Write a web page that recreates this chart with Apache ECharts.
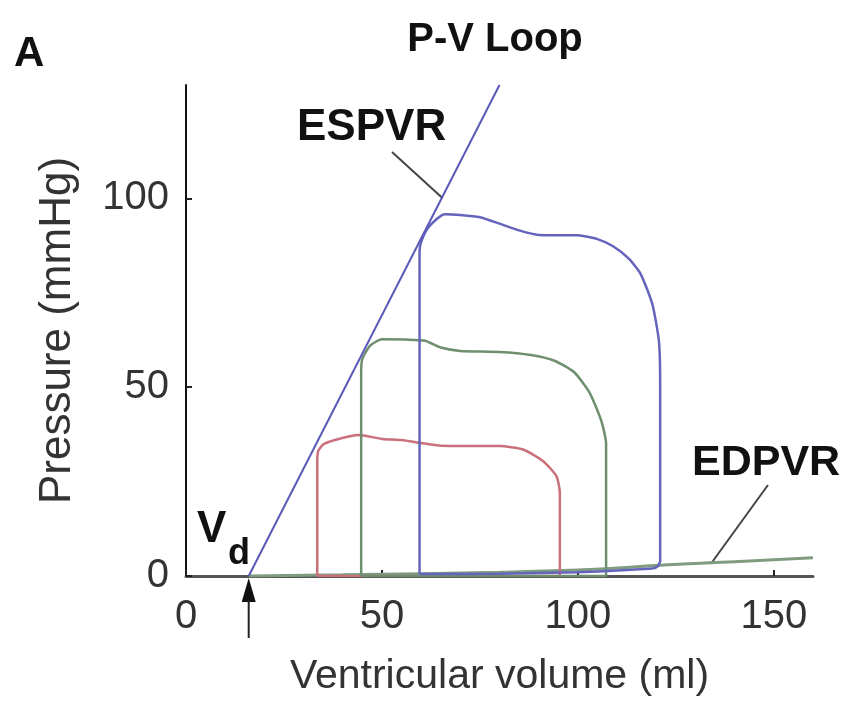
<!DOCTYPE html>
<html>
<head>
<meta charset="utf-8">
<script src="https://cdn.jsdelivr.net/npm/echarts@6/dist/echarts.min.js"></script>
<style>
  html, body { margin: 0; padding: 0; background: #fff; }
  #main { width: 848px; height: 702px; }
</style>
</head>
<body>
<div id="main"></div>
<script>
// volume (ml), pressure (mmHg) pairs
var vd = 16;
var espvr = [[16, 0], [80, 130]];
var edpvr = [[16, 0], [40, 0.3], [60, 0.6], [80, 1], [100, 1.6], [110, 2.1], [120, 2.8], [130, 3.3], [140, 3.8], [150, 4.3], [160, 4.8]];

var loopRed = [[33.5, 0], [33.5, 30], [33.7, 33], [35, 34.8], [38, 36], [44, 37.3], [50, 36.3], [55, 36], [60, 35.2], [65, 34.5],
  [80, 34.4], [86, 33.5], [91, 30.5], [94.5, 26.5], [95.4, 22], [95.4, 0], [33.5, 0]];
var loopGreen = [[44.7, 0], [44.7, 54], [45, 57.5], [47, 61], [50, 62.7], [56, 62.6], [61, 62.3], [65, 60.5], [70, 59.6], [80, 59.3],
  [88, 58.5], [94, 57], [99, 54], [103, 48.5], [106, 41], [107.2, 35], [107.2, 0], [44.7, 0]];
var loopBlue = [[59.6, 0.5], [59.6, 86], [60.2, 89], [62, 92.5], [66, 95.8], [70, 95.6], [75, 95], [80, 93.3], [85, 91.5], [90, 90.3],
  [100, 90.2], [105, 89.2], [109, 87.3], [113, 84], [116, 80], [119, 72], [120.7, 62], [121, 50], [121, 4], [120.3, 2.5],
  [119, 2], [100, 1], [80, 0.6], [59.6, 0.5]];

var xTicks = [0, 50, 100, 150];
var yTicks = [0, 50, 100];

var font = "'Liberation Sans', Arial, sans-serif";
var myChart = echarts.init(document.getElementById('main'));

function loop(data, color) {
  return {
    type: 'line',
    data: data,
    smooth: 0.2,
    symbol: 'none',
    lineStyle: { color: color, width: 2.5 },
    z: 2
  };
}

var option = {
  animation: false,
  backgroundColor: '#fff',
  grid: { left: 186, right: 35, top: 85, bottom: 126, outerBoundsMode: 'none' },
  xAxis: {
    type: 'value',
    min: 0,
    max: 160,
    interval: 50,
    name: 'Ventricular volume (ml)',
    nameLocation: 'middle',
    nameGap: 80,
    nameTextStyle: { fontSize: 41, color: '#333', fontFamily: font },
    axisLine: { lineStyle: { color: '#555', width: 3 } },
    axisTick: { inside: true, length: 6, lineStyle: { color: '#222', width: 2 } },
    axisLabel: {
      fontSize: 40, color: '#333', fontFamily: font, margin: 21, showMaxLabel: false,
      formatter: function (v) { return xTicks.indexOf(v) >= 0 ? String(v) : ''; }
    },
    splitLine: { show: false }
  },
  yAxis: {
    type: 'value',
    min: 0,
    max: 130,
    interval: 50,
    name: 'Pressure (mmHg)',
    nameLocation: 'middle',
    nameGap: 106,
    nameTextStyle: { fontSize: 44, color: '#333', fontFamily: font },
    axisLine: { lineStyle: { color: '#111', width: 2 } },
    axisTick: { inside: true, length: 6, lineStyle: { color: '#222', width: 2 } },
    axisLabel: {
      fontSize: 40, color: '#333', fontFamily: font, margin: 17, showMaxLabel: false,
      formatter: function (v) { return yTicks.indexOf(v) >= 0 ? String(v) : ''; }
    },
    splitLine: { show: false }
  },
  series: [
    {
      type: 'line', data: edpvr, smooth: true, symbol: 'none',
      lineStyle: { color: '#7f9c80', width: 3 }, z: 1
    },
    loop(loopRed, '#c9707c'),
    loop(loopGreen, '#6e8f6e'),
    loop(loopBlue, '#6464bc'),
    {
      type: 'line', data: espvr, symbol: 'none',
      lineStyle: { color: '#5a5ab8', width: 2 }, z: 3
    }
  ]
};
myChart.setOption(option);

// annotations anchored to data points
var vdPx = myChart.convertToPixel({ gridIndex: 0 }, [vd, 0]);
var esPx = myChart.convertToPixel({ gridIndex: 0 }, [65.5, 100]);
var edPx = myChart.convertToPixel({ gridIndex: 0 }, [134, 3.3]);

myChart.setOption({
  graphic: [
    { type: 'text', left: 14, top: 33, style: { text: 'A', fontSize: 42, fontWeight: 'bold', fontFamily: font, fill: '#111' } },
    { type: 'text', x: 495, y: 20, style: { text: 'P-V Loop', fontSize: 40, fontWeight: 'bold', fontFamily: font, fill: '#111', align: 'center' } },
    { type: 'text', x: 297, y: 106, style: { text: 'ESPVR', fontSize: 44, fontWeight: 'bold', fontFamily: font, fill: '#111' } },
    { type: 'line', shape: { x1: 392, y1: 152, x2: esPx[0], y2: esPx[1] }, style: { stroke: '#444', lineWidth: 2 } },
    { type: 'text', x: 692, y: 442, style: { text: 'EDPVR', fontSize: 43, fontWeight: 'bold', fontFamily: font, fill: '#111' } },
    { type: 'line', shape: { x1: 768, y1: 485, x2: edPx[0], y2: edPx[1] }, style: { stroke: '#444', lineWidth: 2 } },
    { type: 'text', x: 197, y: 508, style: { text: 'V', fontSize: 44, fontWeight: 'bold', fontFamily: font, fill: '#111' } },
    { type: 'text', x: 228, y: 536, style: { text: 'd', fontSize: 36, fontWeight: 'bold', fontFamily: font, fill: '#111' } },
    { type: 'polygon', shape: { points: [[vdPx[0], vdPx[1] + 2], [vdPx[0] - 7, vdPx[1] + 26], [vdPx[0] + 7, vdPx[1] + 26]] }, style: { fill: '#111' } },
    { type: 'line', shape: { x1: vdPx[0], y1: vdPx[1] + 24, x2: vdPx[0], y2: vdPx[1] + 62 }, style: { stroke: '#222', lineWidth: 2 } }
  ]
});
</script>
</body>
</html>
